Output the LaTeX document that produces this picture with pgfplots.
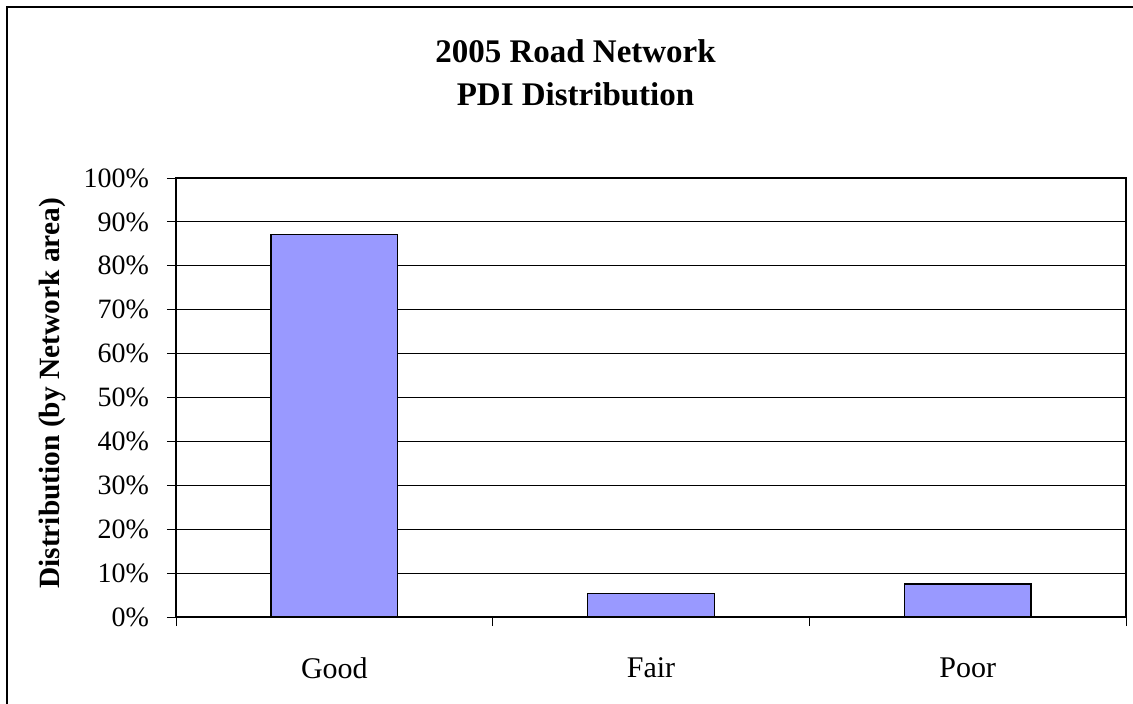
\documentclass[border=0pt]{standalone}
\usepackage{pgfplots}
\pgfplotsset{compat=1.18}
\usepackage{fontspec}
\setmainfont{Liberation Serif}
\definecolor{barblue}{HTML}{9999FF}
\begin{document}
\begin{tikzpicture}
\useasboundingbox (-88pt,-43pt) rectangle (478.5pt,308.5pt);
\draw[line width=0.8pt] (490pt,305pt) -- (-84.5pt,305pt) -- (-84.5pt,-60pt);
\begin{axis}[
  at={(0pt,0pt)}, anchor=south west,
  scale only axis, width=475pt, height=219.5pt,
  xmin=-0.5, xmax=2.5, ymin=0, ymax=100,
  ybar, bar width=0.4,
  xtick={-0.5,0.5,1.5,2.5}, xticklabels={},
  extra x ticks={0,1,2}, extra x tick labels={Good,Fair,Poor},
  extra x tick style={tick style={draw=none}, xticklabel style={yshift=-12.5pt, font=\fontsize{15}{17}\selectfont}},
  ytick={0,10,...,100},
  yticklabel={\pgfmathprintnumber{\tick}\%},
  yticklabel style={xshift=-5.5pt},
  ymajorgrids, grid style={black, line width=0.5pt},
  tick align=outside, major tick length=4.5pt,
  xtick pos=bottom, ytick pos=left,
  axis line style={black, line width=0.6pt},
  tick style={black, line width=0.5pt},
  /pgf/number format/assume math mode=true,
  ticklabel style={font=\fontsize{14}{16}\selectfont},
]
\addplot[fill=barblue, draw=black, line width=0.7pt] coordinates {(0,87.1) (1,5.4) (2,7.5)};
\end{axis}
\node[anchor=base, font=\fontsize{16.5}{20}\selectfont\bfseries] at (199.75pt,277pt) {2005 Road Network};
\node[anchor=base, font=\fontsize{16.5}{20}\selectfont\bfseries] at (199.75pt,255.5pt) {PDI Distribution};
\node[rotate=90, anchor=base, font=\fontsize{14.7}{17}\selectfont\bfseries] at (-58.25pt,111.75pt) {Distribution (by Network area)};
\end{tikzpicture}
\end{document}
